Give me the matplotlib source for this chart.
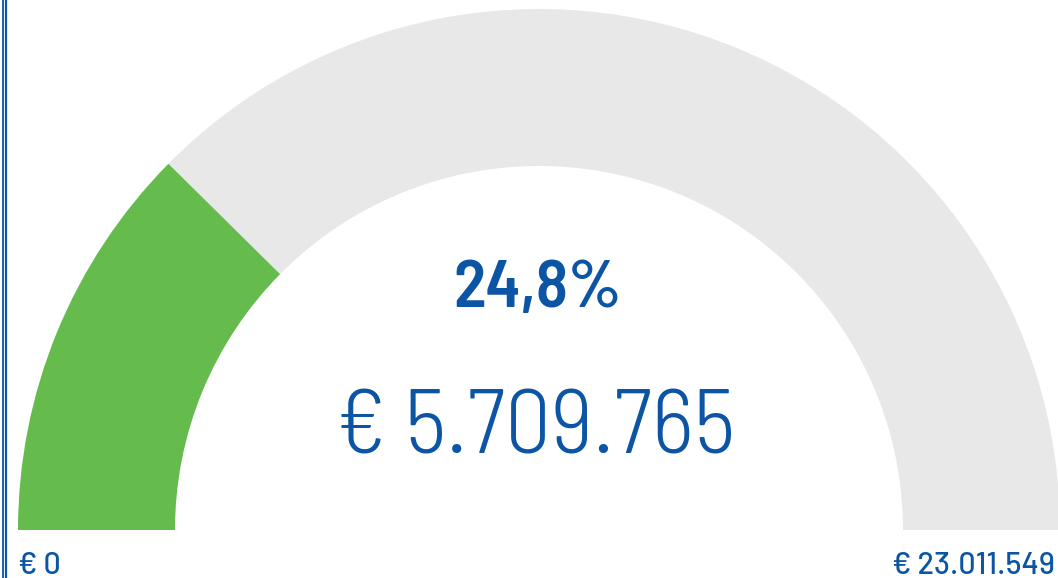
import matplotlib.pyplot as plt
from matplotlib.patches import Wedge

# gauge values
value = 5709765
total = 23011549
pct_label = '24,8%'
value_label = '€ 5.709.765'
min_label = '€ 0'
max_label = '€ 23.011.549'

blue = '#0b55a4'
green = '#66bb4d'
grey = '#e8e8e8'

fonts = ['Barlow Semi Condensed', 'Roboto Condensed', 'Roboto', 'DejaVu Sans']
label_fonts = ['Barlow', 'Roboto', 'DejaVu Sans']
plt.rcParams['font.family'] = fonts

fig = plt.figure(figsize=(10.58, 5.78), dpi=100)
ax = fig.add_axes([0, 0, 1, 1])
ax.set_xlim(0, 1058)
ax.set_ylim(0, 578)
ax.axis('off')

cx, cy = 539, 48
r_out, ring = 521, 157
split = 180 - 180 * value / total

ax.add_patch(Wedge((cx, cy), r_out, 0, split, width=ring, color=grey, lw=0))
ax.add_patch(Wedge((cx, cy), r_out, split, 180, width=ring, color=green, lw=0))

ax.text(537.5, 578 - 307, pct_label, ha='center', va='baseline',
        fontsize=48, fontweight=600, color=blue)
ax.text(535.5, 578 - 453, value_label, ha='center', va='baseline',
        fontsize=66, fontweight=300, color=blue)
ax.text(18, 578 - 574, min_label, ha='left', va='baseline', fontsize=22,
        fontweight=500, family=label_fonts, color=blue)
ax.text(1055, 578 - 574, max_label, ha='right', va='baseline', fontsize=22,
        fontweight=500, family=label_fonts, color=blue)

# double border on the left edge
ax.axvline(3, color=blue, lw=1.3)
ax.axvline(6, color=blue, lw=1.6)

fig.savefig('out.png', dpi=100)
